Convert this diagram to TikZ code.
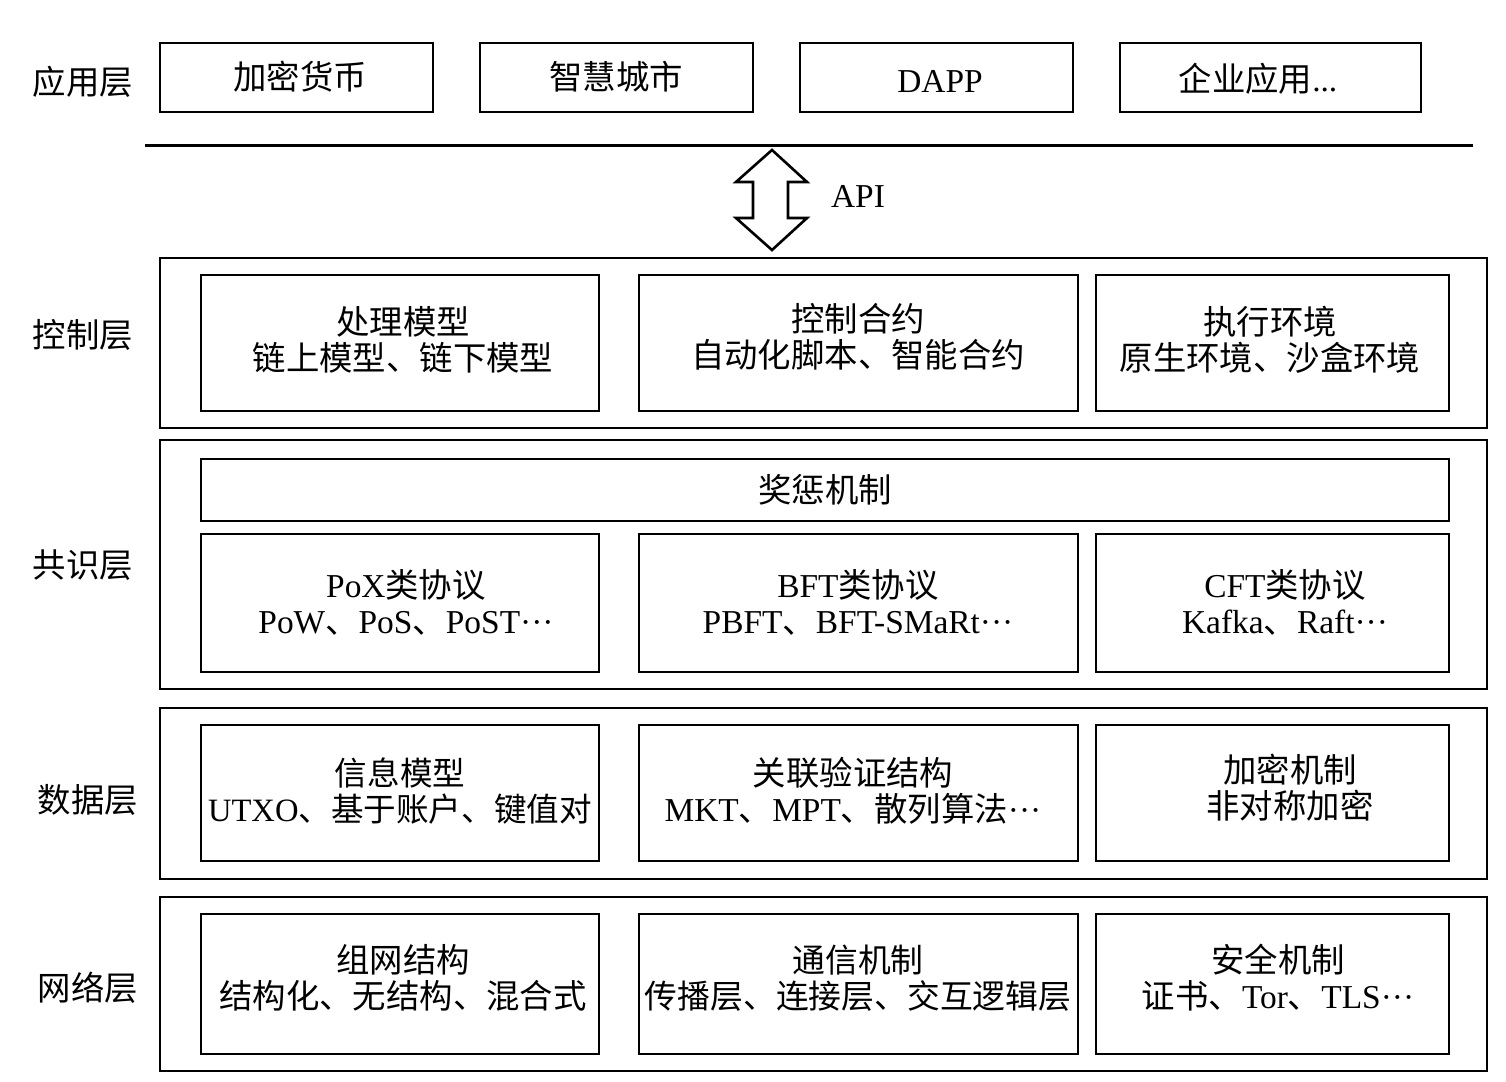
\documentclass[tikz,border=0pt]{standalone}
\usepackage{fontspec}
\setmainfont{Liberation Serif}
\newfontfamily\cjk{Noto Sans CJK SC}
\newcommand{\C}[1]{{\cjk #1}}
\usetikzlibrary{fit}
\begin{document}
\begin{tikzpicture}[x=0.5pt,y=-0.5pt,
  outerbox/.style={draw, line width=1.2pt, inner sep=0pt},
  innerbox/.style={draw, line width=1pt, inner sep=0pt},
  txt/.style={align=center, inner sep=0pt, font=\fontsize{16.7}{18}\selectfont},
  lbl/.style={inner sep=0pt, font=\fontsize{16.7}{18}\selectfont}]
\useasboundingbox (0,0) rectangle (1506,1082);
% application layer
\node[lbl] (lapp) at (83,82) {\C{应用层}};
\node[innerbox, fit={(160,43) (433,112)}] (a1) {};
\node[innerbox, fit={(480,43) (753,112)}] (a2) {};
\node[innerbox, fit={(800,43) (1073,112)}] (a3) {};
\node[innerbox, fit={(1120,43) (1421,112)}] (a4) {};
\node[txt] (ta1) at (300,77) {\C{加密货币}};
\node[txt] (ta2) at (616,77) {\C{智慧城市}};
\node[txt] (ta3) at (940,82) {DAPP};
\node[txt] (ta4) at (1258,79) {\C{企业应用}...};
\coordinate (hl1) at (145,145);
\coordinate (hl2) at (1473,145);
\draw[line width=1.5pt] (hl1) -- (hl2);
% API arrow
\draw[line width=1.3pt, line join=miter] (772,150) -- (807,182) -- (788,182) -- (788,218) -- (807,218) -- (772,250) -- (736,218) -- (753,218) -- (753,182) -- (736,182) -- cycle;
\node[txt] (api) at (858,196) {API};
% control layer
\node[lbl] (lctl) at (83,335) {\C{控制层}};
\node[outerbox, fit={(160,258) (1487,428)}] (ctl) {};
\node[innerbox, fit={(201,275) (599,411)}] (c1) {};
\node[innerbox, fit={(639,275) (1078,411)}] (c2) {};
\node[innerbox, fit={(1096,275) (1449,411)}] (c3) {};
\node[txt] (tc1) at (403,340) {\C{处理模型}\\\C{链上模型、链下模型}};
\node[txt] (tc2) at (858,337) {\C{控制合约}\\\C{自动化脚本、智能合约}};
\node[txt] (tc3) at (1270,340) {\C{执行环境}\\\C{原生环境、沙盒环境}};
% consensus layer
\node[lbl] (lcon) at (83,565) {\C{共识层}};
\node[outerbox, fit={(160,440) (1487,689)}] (con) {};
\node[innerbox, fit={(201,459) (1449,521)}] (rew) {};
\node[txt] (trew) at (825,490) {\C{奖惩机制}};
\node[innerbox, fit={(201,534) (599,672)}] (p1) {};
\node[innerbox, fit={(639,534) (1078,672)}] (p2) {};
\node[innerbox, fit={(1096,534) (1449,672)}] (p3) {};
\node[txt] (tp1) at (406,602) {PoX\C{类协议}\\PoW\C{、}PoS\C{、}PoST···};
\node[txt] (tp2) at (858,602) {BFT\C{类协议}\\PBFT\C{、}BFT-SMaRt···};
\node[txt] (tp3) at (1285,602) {CFT\C{类协议}\\Kafka\C{、}Raft···};
% data layer
\node[lbl] (ldat) at (88,800) {\C{数据层}};
\node[outerbox, fit={(160,708) (1487,879)}] (dat) {};
\node[innerbox, fit={(201,725) (599,861)}] (d1) {};
\node[innerbox, fit={(639,725) (1078,861)}] (d2) {};
\node[innerbox, fit={(1096,725) (1449,861)}] (d3) {};
\node[txt, font=\fontsize{16.3}{18}\selectfont] (td1) at (400,791) {\C{信息模型}\\UTXO\C{、基于账户、键值对}};
\node[txt] (td2) at (853,791) {\C{关联验证结构}\\MKT\C{、}MPT\C{、散列算法}···};
\node[txt] (td3) at (1290,788) {\C{加密机制}\\\C{非对称加密}};
% network layer
\node[lbl] (lnet) at (88,988) {\C{网络层}};
\node[outerbox, fit={(160,897) (1487,1071)}] (net) {};
\node[innerbox, fit={(201,914) (599,1054)}] (n1) {};
\node[innerbox, fit={(639,914) (1078,1054)}] (n2) {};
\node[innerbox, fit={(1096,914) (1449,1054)}] (n3) {};
\node[txt] (tn1) at (403,978) {\C{组网结构}\\\C{结构化、无结构、混合式}};
\node[txt, font=\fontsize{16.4}{18}\selectfont] (tn2) at (858,978) {\C{通信机制}\\\C{传播层、连接层、交互逻辑层}};
\node[txt] (tn3) at (1278,978) {\C{安全机制}\\\C{证书、}Tor\C{、}TLS···};
\end{tikzpicture}
\end{document}
